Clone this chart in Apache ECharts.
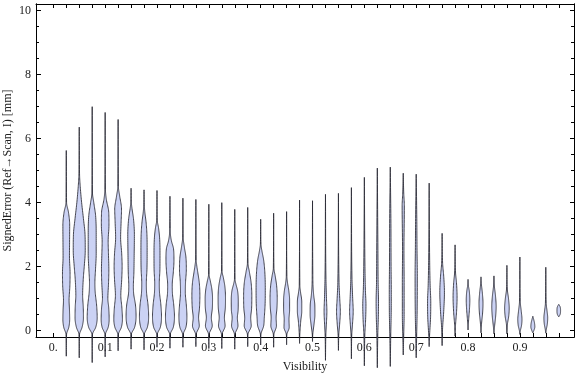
<!DOCTYPE html>
<html>
<head>
<meta charset="utf-8">
<script src="https://cdn.jsdelivr.net/npm/echarts@6/dist/echarts.min.js"></script>
<style>
  html, body { margin: 0; padding: 0; background: #fff; }
  #chart { width: 576px; height: 377px; }
</style>
</head>
<body>
<div id="chart"></div>
<script>
// violin centres on the Visibility axis
var positions = [0.025, 0.05, 0.075, 0.1, 0.125, 0.15, 0.175, 0.2, 0.225, 0.25,
    0.275, 0.3, 0.325, 0.35, 0.375, 0.4, 0.425, 0.45, 0.475, 0.5,
    0.525, 0.55, 0.575, 0.6, 0.625, 0.65, 0.675, 0.7, 0.725, 0.75,
    0.775, 0.8, 0.825, 0.85, 0.875, 0.9, 0.925, 0.95, 0.975];

// lowest / highest signed error of each violin
var minVals = [-0.8, -0.85, -1.0, -0.82, -0.63, -0.58, -0.6, -0.52, -0.55, -0.52,
    -0.5, -0.56, -0.56, -0.58, -0.5, -0.45, -0.52, -0.44, -0.4, -0.34,
    -0.93, -0.62, -0.88, -1.1, -1.16, -1.12, -0.76, -0.85, -0.5, -0.47,
    -0.17, 0.02, -0.07, -0.1, -0.1, -0.12, -0.07, -0.08, 0.43];
var maxVals = [5.63, 6.36, 7.0, 6.82, 6.6, 4.45, 4.4, 4.38, 4.2, 4.14,
    4.1, 3.95, 4.0, 3.79, 3.85, 3.48, 3.67, 3.72, 4.08, 4.06,
    4.26, 4.29, 4.47, 4.79, 5.08, 5.11, 4.92, 4.89, 4.61, 3.04,
    2.68, 1.6, 1.68, 1.71, 2.04, 2.3, 0.45, 1.98, 0.82];

// density profile of each violin: [signed error, relative density]
var profiles = [
    [[-0.12,0.3],[0.1,2.5],[0.35,3.4],[0.65,3.2],[0.95,2.8],[1.4,3.6],[1.8,3.8],[2.3,3.2],[2.8,3.3],[3.3,3.4],[3.7,2.2],[4.0,0.3]],
    [[-0.12,0.3],[0.1,2.8],[0.4,4.2],[0.75,4.0],[1.1,3.4],[1.6,4.0],[2.0,5.0],[2.5,6.0],[3.0,5.8],[3.5,4.2],[4.0,2.4],[4.5,1.0],[4.9,0.3]],
    [[-0.12,0.3],[0.1,3.5],[0.4,5.0],[0.8,4.4],[1.2,3.0],[1.5,2.7],[1.9,3.3],[2.4,4.0],[3.0,4.0],[3.6,3.4],[4.0,1.6],[4.3,0.3]],
    [[-0.12,0.3],[0.1,3.0],[0.35,4.0],[0.7,3.6],[1.0,2.7],[1.5,3.4],[1.9,3.7],[2.4,3.3],[2.8,3.0],[3.3,3.8],[3.7,3.6],[4.1,1.2],[4.4,0.3]],
    [[-0.12,0.3],[0.1,3.2],[0.35,4.3],[0.7,3.8],[1.1,2.7],[1.6,3.6],[2.0,4.0],[2.4,3.6],[2.9,2.5],[3.4,3.0],[3.8,3.4],[4.2,1.6],[4.5,0.3]],
    [[-0.12,0.3],[0.1,3.5],[0.45,5.0],[0.8,4.4],[1.15,2.6],[1.4,2.3],[1.8,2.8],[2.4,3.1],[3.0,3.3],[3.5,2.4],[3.8,1.0],[4.0,0.3]],
    [[-0.12,0.3],[0.1,3.3],[0.45,4.6],[0.8,4.0],[1.2,2.5],[1.5,2.3],[1.9,2.9],[2.5,3.1],[3.0,2.9],[3.4,2.0],[3.7,0.8],[3.9,0.3]],
    [[-0.12,0.3],[0.1,3.3],[0.45,4.5],[0.8,3.9],[1.2,2.5],[1.5,2.3],[1.9,2.9],[2.4,3.0],[2.9,2.6],[3.2,1.6],[3.45,0.3]],
    [[-0.12,0.3],[0.1,3.3],[0.45,4.5],[0.8,3.8],[1.2,2.4],[1.45,2.3],[1.8,3.3],[2.2,4.0],[2.55,3.6],[2.8,1.5],[3.0,0.5],[3.2,0.3]],
    [[-0.12,0.3],[0.1,3.0],[0.45,4.0],[0.8,3.4],[1.2,2.4],[1.5,2.6],[1.9,3.4],[2.3,3.0],[2.6,1.5],[2.9,0.3]],
    [[-0.12,0.3],[0.15,3.4],[0.4,2.7],[0.7,3.6],[1.1,4.0],[1.5,3.4],[1.8,2.0],[2.05,0.8],[2.2,0.3]],
    [[-0.12,0.3],[0.15,3.4],[0.4,2.5],[0.7,3.5],[1.0,3.7],[1.3,3.0],[1.55,1.5],[1.75,0.3]],
    [[-0.12,0.3],[0.15,3.3],[0.4,2.6],[0.7,3.5],[1.0,3.7],[1.35,3.2],[1.65,1.6],[1.85,0.3]],
    [[-0.12,0.3],[0.15,3.2],[0.4,2.6],[0.65,3.4],[0.95,3.5],[1.25,2.8],[1.45,1.2],[1.6,0.3]],
    [[-0.12,0.3],[0.15,3.5],[0.4,3.0],[0.7,3.9],[1.1,4.1],[1.5,3.4],[1.85,1.6],[2.1,0.3]],
    [[-0.12,0.3],[0.15,3.0],[0.4,3.6],[0.8,4.4],[1.3,4.6],[1.8,4.2],[2.2,3.0],[2.5,1.2],[2.7,0.3]],
    [[-0.12,0.3],[0.15,2.8],[0.4,2.5],[0.7,3.3],[1.0,3.6],[1.4,3.0],[1.7,1.6],[1.95,0.3]],
    [[-0.12,0.3],[0.1,2.6],[0.35,2.4],[0.65,3.0],[0.95,3.0],[1.25,2.2],[1.5,0.9],[1.7,0.3]],
    [[-0.1,0.3],[0.3,1.2],[0.6,2.2],[0.9,2.2],[1.2,1.0],[1.4,0.3]],
    [[-0.1,0.3],[0.2,1.5],[0.5,2.4],[0.8,2.3],[1.1,1.2],[1.4,0.5],[1.8,0.3]],
    [[-0.1,0.4],[0.2,0.9],[0.6,1.4],[1.0,1.0],[1.6,0.5]],
    [[-0.1,0.4],[0.2,1.2],[0.6,1.9],[1.0,1.3],[1.5,0.6]],
    [[-0.1,0.4],[0.2,1.1],[0.6,1.8],[1.0,1.3],[1.6,0.6]],
    [[-0.1,0.5],[0.3,1.2],[0.8,1.6],[1.3,1.0],[2.0,0.6]],
    [[-0.1,0.5],[0.4,1.0],[0.9,1.2],[1.5,0.8],[2.5,0.6]],
    [[-0.1,0.5],[0.5,0.9],[1.2,1.0],[2.0,0.8],[3.5,0.6]],
    [[-0.1,0.5],[0.5,0.9],[1.5,0.9],[2.5,0.7],[3.9,1.1],[4.3,0.5]],
    [[-0.1,0.5],[0.5,0.9],[1.7,1.1],[2.6,0.8],[3.5,0.6]],
    [[-0.1,0.5],[0.4,1.4],[0.9,1.6],[1.4,1.0],[2.2,0.5]],
    [[0.1,0.5],[0.6,1.6],[1.2,2.3],[1.7,1.6],[2.1,0.5]],
    [[0.2,0.5],[0.6,1.5],[1.05,2.0],[1.5,1.4],[1.8,0.5]],
    [[0.3,0.5],[0.7,1.5],[0.95,1.8],[1.25,1.2],[1.4,0.4]],
    [[0.2,0.5],[0.55,1.6],[0.85,2.0],[1.2,1.3],[1.45,0.4]],
    [[0.1,0.5],[0.45,1.7],[0.75,2.2],[1.1,1.5],[1.4,0.4]],
    [[0.2,0.5],[0.45,1.8],[0.7,2.3],[1.0,1.6],[1.3,0.4]],
    [[0.0,0.5],[0.15,1.6],[0.35,2.1],[0.6,1.4],[0.9,0.4]],
    [[0.0,1.0],[0.12,2.0],[0.25,1.6],[0.38,0.6]],
    [[0.05,0.6],[0.2,1.5],[0.4,1.9],[0.6,1.3],[0.85,0.4]],
    [[0.5,1.3],[0.63,1.8],[0.75,1.3]]
];

// frame ticks and labels
var xTicks = [0, 0.025, 0.05, 0.075, 0.1, 0.125, 0.15, 0.175, 0.2, 0.225,
    0.25, 0.275, 0.3, 0.325, 0.35, 0.375, 0.4, 0.425, 0.45, 0.475,
    0.5, 0.525, 0.55, 0.575, 0.6, 0.625, 0.65, 0.675, 0.7, 0.725,
    0.75, 0.775, 0.8, 0.825, 0.85, 0.875, 0.9, 0.925, 0.95, 0.975];
var xLabels = [0, 0.1, 0.2, 0.3, 0.4, 0.5, 0.6, 0.7, 0.8, 0.9];
var yMajor = [0, 2, 4, 6, 8, 10];
var yMinor = [0.5, 1, 1.5, 2.5, 3, 3.5, 4.5, 5, 5.5, 6.5, 7, 7.5, 8.5, 9, 9.5];

var X_MIN = -0.0334, X_MAX = 1.0044, Y_MIN = -0.2, Y_MAX = 10.21;
var DENSITY_PX = 1;   // px of half width per density unit
var FONT = 'Liberation Serif, Times New Roman, serif';

// monotone cubic (Fritsch-Carlson) so the outline never overshoots
function monotone(xs, ys) {
    var n = xs.length, d = [], m = [];
    for (var i = 0; i < n - 1; i++) d.push((ys[i + 1] - ys[i]) / (xs[i + 1] - xs[i]));
    m[0] = d[0]; m[n - 1] = d[n - 2];
    for (i = 1; i < n - 1; i++) m[i] = (d[i - 1] * d[i] <= 0) ? 0 : (d[i - 1] + d[i]) / 2;
    for (i = 0; i < n - 1; i++) {
        if (d[i] === 0) { m[i] = 0; m[i + 1] = 0; continue; }
        var a = m[i] / d[i], b = m[i + 1] / d[i], s = a * a + b * b;
        if (s > 9) { var t = 3 / Math.sqrt(s); m[i] = t * a * d[i]; m[i + 1] = t * b * d[i]; }
    }
    return function (x, k) {
        var h = xs[k + 1] - xs[k], t = (x - xs[k]) / h, t2 = t * t, t3 = t2 * t;
        return (2 * t3 - 3 * t2 + 1) * ys[k] + (t3 - 2 * t2 + t) * h * m[k]
            + (-2 * t3 + 3 * t2) * ys[k + 1] + (t3 - t2) * h * m[k + 1];
    };
}

function renderViolin(params, api) {
    var i = params.dataIndex;
    var prof = [[minVals[i], 0]].concat(profiles[i], [[maxVals[i], 0]]);
    var ys = prof.map(function (p) { return p[0]; });
    var ws = prof.map(function (p) { return p[1]; });
    var f = monotone(ys, ws);
    var left = [], right = [];
    for (var k = 0; k < ys.length - 1; k++) {
        var steps = 10;
        for (var s = 0; s < steps || (k === ys.length - 2 && s === steps); s++) {
            var y = ys[k] + (ys[k + 1] - ys[k]) * s / steps;
            var w = Math.max(0, f(y, k)) * DENSITY_PX;
            var c = api.coord([positions[i], y]);
            left.push([c[0] - w, c[1]]);
            right.push([c[0] + w, c[1]]);
        }
    }
    return {
        type: 'polygon',
        shape: { points: left.concat(right.reverse()) },
        style: { fill: '#cbd2f4', stroke: 'rgba(40,40,50,0.85)', lineWidth: 1 }
    };
}

var chart = echarts.init(document.getElementById('chart'));

var frameLine = { show: true, onZero: false, lineStyle: { color: '#000', width: 1 } };
var textStyle = { color: '#222', fontFamily: FONT, fontSize: 12 };

chart.setOption({
    backgroundColor: '#fff',
    animation: false,
    grid: { left: 36, right: 2, top: 4, bottom: 40, containLabel: false, outerBoundsMode: 'none' },
    xAxis: [{
        type: 'value', min: X_MIN, max: X_MAX, position: 'bottom',
        axisLine: frameLine,
        axisTick: { show: true, inside: true, length: 4, customValues: xTicks, lineStyle: { color: '#000' } },
        axisLabel: {
            customValues: xLabels, margin: 5, color: textStyle.color, fontFamily: FONT, fontSize: 12,
            formatter: function (v) { return v === 0 ? '0.' : String(v); }
        },
        splitLine: { show: false },
        name: 'Visibility', nameLocation: 'middle', nameGap: 24, nameMoveOverlap: false,
        nameTextStyle: textStyle
    }, {
        type: 'value', min: X_MIN, max: X_MAX, position: 'top',
        axisLine: frameLine,
        axisTick: { show: true, inside: true, length: 4, customValues: xTicks, lineStyle: { color: '#000' } },
        axisLabel: { show: false }, splitLine: { show: false }
    }],
    yAxis: [{
        type: 'value', min: Y_MIN, max: Y_MAX, position: 'left',
        axisLine: frameLine,
        axisTick: { show: true, inside: true, length: 5, customValues: yMajor, lineStyle: { color: '#000' } },
        axisLabel: { customValues: yMajor, margin: 5, color: textStyle.color, fontFamily: FONT, fontSize: 12 },
        splitLine: { show: false },
        name: 'SignedError (Ref\u2192Scan, I) [mm]', nameLocation: 'middle', nameGap: 22,
        nameMoveOverlap: false, nameRotate: 90, nameTextStyle: textStyle
    }, {
        type: 'value', min: Y_MIN, max: Y_MAX, position: 'left',
        axisLine: frameLine,
        axisTick: { show: true, inside: true, length: 3, customValues: yMinor, lineStyle: { color: '#000' } },
        axisLabel: { show: false }, splitLine: { show: false }
    }, {
        type: 'value', min: Y_MIN, max: Y_MAX, position: 'right',
        axisLine: frameLine,
        axisTick: { show: true, inside: true, length: 4, customValues: yMajor, lineStyle: { color: '#000' } },
        axisLabel: { show: false }, splitLine: { show: false }
    }, {
        type: 'value', min: Y_MIN, max: Y_MAX, position: 'right',
        axisLine: frameLine,
        axisTick: { show: true, inside: true, length: 3, customValues: yMinor, lineStyle: { color: '#000' } },
        axisLabel: { show: false }, splitLine: { show: false }
    }],
    series: [{
        type: 'custom',
        xAxisIndex: 0, yAxisIndex: 0,
        clip: false,
        renderItem: renderViolin,
        encode: { x: 0, y: [1, 2] },
        data: positions.map(function (p, i) { return [p, minVals[i], maxVals[i]]; })
    }]
});
</script>
</body>
</html>
